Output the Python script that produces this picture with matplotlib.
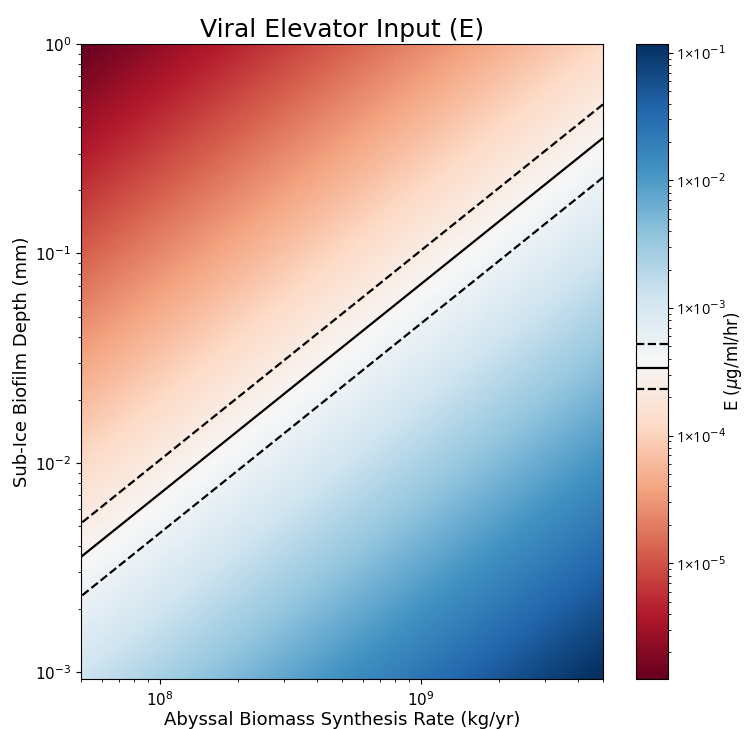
import numpy as np
import matplotlib
matplotlib.use("Agg")
import matplotlib.pyplot as plt
from matplotlib.colors import LogNorm
from matplotlib.ticker import FuncFormatter

# ── Values ───────────────────────────────────────────────────────────────
x_range = [5e7, 5e9]            # synthesis rate (kg/yr)
y_range = [9.3e-4, 1.0]         # biofilm depth (mm)
e_coef = 2.4e-14                # E = e_coef * rate / depth
e_limits = [1.24e-6, 1.17e-1]   # colour scale limits
contour_levels = [2.33e-4, 3.37e-4, 5.2e-4]
contour_styles = ["--", "-", "--"]
cbar_ticks = [1e-5, 1e-4, 1e-3, 1e-2, 1e-1]

# ── Field on a log grid ──────────────────────────────────────────────────
xs = np.logspace(np.log10(x_range[0]), np.log10(x_range[1]), 200)
ys = np.logspace(np.log10(y_range[0]), np.log10(y_range[1]), 200)
X, Y = np.meshgrid(xs, ys)
E = e_coef * X / Y

fig = plt.figure(figsize=(7.44, 7.29), dpi=100)
ax = fig.add_axes([0.1089, 0.0686, 0.7016, 0.871])
cax = fig.add_axes([0.8548, 0.0686, 0.043, 0.871])

norm = LogNorm(vmin=e_limits[0], vmax=e_limits[1])
mesh = ax.pcolormesh(X, Y, E, cmap="RdBu", norm=norm, shading="auto",
                     rasterized=True)
cs = ax.contour(X, Y, E, levels=contour_levels, colors="black",
                linestyles=contour_styles, linewidths=1.6)

ax.set_xscale("log")
ax.set_yscale("log")
ax.set_xlim(*x_range)
ax.set_ylim(*y_range)
ax.set_title("Viral Elevator Input (E)", fontsize=18, pad=5)
ax.set_xlabel("Abyssal Biomass Synthesis Rate (kg/yr)", fontsize=13, labelpad=1)
ax.set_ylabel("Sub-Ice Biofilm Depth (mm)", fontsize=13, labelpad=3)
ax.tick_params(labelsize=11)
ax.tick_params(axis="x", which="major", pad=5)

cb = fig.colorbar(mesh, cax=cax)
for lev, ls in zip(contour_levels, contour_styles):
    cb.ax.axhline(lev, color="black", linestyle=ls, linewidth=1.6)
cb.set_ticks(cbar_ticks)
cb.ax.yaxis.set_major_formatter(
    FuncFormatter(lambda v, p: f"1×10$^{{{int(round(np.log10(v)))}}}$"))
cb.ax.tick_params(labelsize=10.5, pad=2, labelfontfamily="Open Sans")
cb.set_label(r"E ($\mu$g/ml/hr)", fontsize=12)
cb.ax.yaxis.set_label_coords(2.68, 0.5)

fig.savefig("out.png", dpi=100)
